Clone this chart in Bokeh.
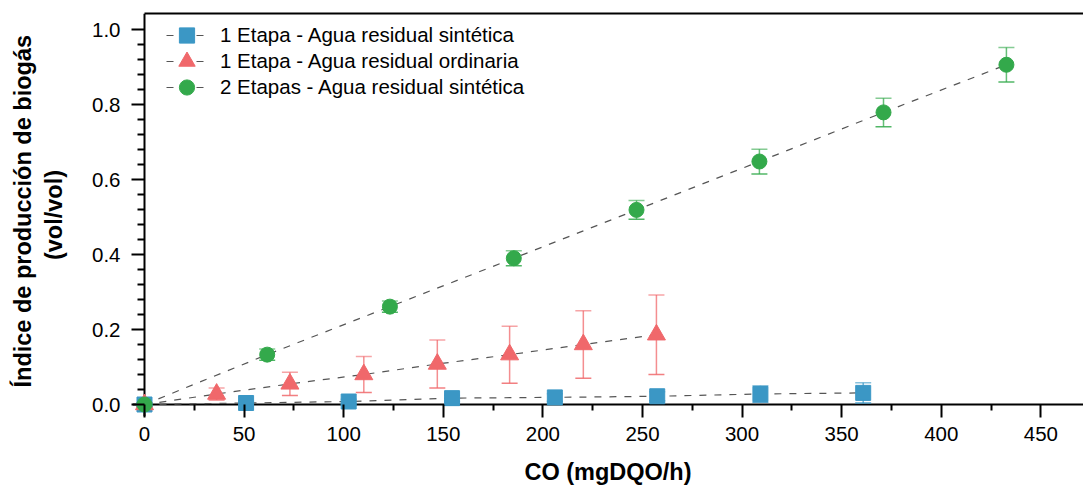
from bokeh.plotting import figure
from bokeh.models import (ColumnDataSource, Whisker, TeeHead, FixedTicker, LinearAxis,
                          Legend, LegendItem, NumeralTickFormatter, Range1d, Span, Title)
from bokeh.embed import file_html
from bokeh.resources import INLINE

# ---- data ----
series_names = ["1 Etapa - Agua residual sintética",
                "1 Etapa - Agua residual ordinaria",
                "2 Etapas - Agua residual sintética"]

x_sint1 = [0, 51, 102.5, 154.4, 206, 257.4, 309.2, 360.8]
y_sint1 = [0.0, 0.004, 0.008, 0.017, 0.019, 0.022, 0.028, 0.031]
e_sint1 = [0.004, 0.005, 0.006, 0.008, 0.010, 0.012, 0.022, 0.027]

x_ord1 = [0, 36.2, 73.0, 110.1, 147.0, 183.3, 220.3, 257.0]
y_ord1 = [0.0, 0.028, 0.055, 0.080, 0.108, 0.133, 0.160, 0.186]
e_ord1 = [0.005, 0.016, 0.031, 0.048, 0.064, 0.076, 0.090, 0.106]

x_sint2 = [0, 61.6, 123.2, 185.4, 247.0, 308.7, 371.0, 432.7]
y_sint2 = [0.0, 0.133, 0.261, 0.390, 0.519, 0.648, 0.779, 0.906]
e_sint2 = [0.004, 0.015, 0.015, 0.020, 0.025, 0.033, 0.038, 0.046]

x_ticks = [0, 50, 100, 150, 200, 250, 300, 350, 400, 450]
x_minor = [25, 75, 125, 175, 225, 275, 325, 375, 425]
y_ticks = [0.0, 0.2, 0.4, 0.6, 0.8, 1.0]
y_minor = [0.04, 0.08, 0.12, 0.16, 0.24, 0.28, 0.32, 0.36, 0.44, 0.48, 0.52, 0.56,
           0.64, 0.68, 0.72, 0.76, 0.84, 0.88, 0.92, 0.96]

x_title = "CO (mgDQO/h)"
y_title_1 = "Índice de producción de biogás"
y_title_2 = "(vol/vol)"

colors = ["#3b97c5", "#f0686b", "#33a94b"]
markers = ["square", "triangle", "circle"]
sizes = [15, 18, 15]

FONT = "Liberation Sans"
X_START, X_END = -6.024, 471.4
Y_START, Y_END = -0.032, 1.0427

p = figure(width=1083, height=490, x_range=Range1d(X_START, X_END), y_range=Range1d(Y_START, Y_END),
           output_backend="svg", toolbar_location=None,
           min_border_left=132, min_border_right=0, min_border_top=13, min_border_bottom=74)
p.outline_line_color = None
p.xgrid.visible = False
p.ygrid.visible = False

for ax in (p.xaxis[0], p.yaxis[0]):
    ax.axis_line_color = None
    ax.major_tick_line_width = 2
    ax.minor_tick_line_width = 2
    ax.major_tick_line_color = "black"
    ax.minor_tick_line_color = "black"
    ax.major_tick_in = 12
    ax.major_tick_out = 1
    ax.minor_tick_in = 12
    ax.major_label_text_font = FONT
    ax.major_label_text_font_size = "20.5px"
    ax.major_label_text_color = "black"
    ax.axis_label_text_font = FONT
    ax.axis_label_text_font_size = "23.5px"
    ax.axis_label_text_font_style = "bold"
    ax.axis_label_text_color = "black"

xa, ya = p.xaxis[0], p.yaxis[0]
xa.ticker = FixedTicker(ticks=x_ticks, minor_ticks=x_minor)
xa.minor_tick_out = -6
xa.major_label_standoff = 9
xa.axis_label = x_title
xa.axis_label_standoff = 15

ya.ticker = FixedTicker(ticks=y_ticks, minor_ticks=y_minor)
ya.minor_tick_out = -5
ya.formatter = NumeralTickFormatter(format="0.0")
ya.major_label_standoff = 11
ya.axis_label = y_title_2
ya.axis_label_standoff = 22

p.add_layout(Title(text=y_title_1, align="left", offset=29, vertical_align="bottom",
                   standoff=6, text_font=FONT, text_font_size="23.5px",
                   text_font_style="bold", text_color="black"), "left")

top = LinearAxis(ticker=FixedTicker(ticks=[], minor_ticks=[]), bounds=(0, X_END),
                 axis_line_width=2, axis_line_color="black",
                 major_tick_line_color=None, minor_tick_line_color=None,
                 major_label_text_color=None)
p.add_layout(top, "above")

# axis lines through the origin
p.add_layout(Span(location=0, dimension="height", line_color="black", line_width=2, level="underlay"))
p.add_layout(Span(location=0, dimension="width", line_color="black", line_width=2, level="underlay"))

data = [(x_sint1, y_sint1, e_sint1), (x_ord1, y_ord1, e_ord1), (x_sint2, y_sint2, e_sint2)]
legend_y = [362, 334, 310]
legend_gh = [38, 42, 38]
for i, (xs, ys, es) in enumerate(data):
    src = ColumnDataSource(dict(x=xs, y=ys,
                                lo=[a - b for a, b in zip(ys, es)],
                                hi=[a + b for a, b in zip(ys, es)]))
    ln = p.line("x", "y", source=src, line_color="#555555", line_width=1.2, line_dash="7 8")
    w = Whisker(base="x", upper="hi", lower="lo", source=src, dimension="height",
                line_color=colors[i], line_alpha=0.75, line_width=1.5, level="underlay",
                upper_head=TeeHead(size=16, line_color=colors[i], line_alpha=0.6, line_width=1.5),
                lower_head=TeeHead(size=16, line_color=colors[i], line_alpha=0.85, line_width=1.5))
    p.add_layout(w)
    sc = p.scatter("x", "y", source=src, marker=markers[i], size=sizes[i],
                   fill_color=colors[i], line_color=colors[i], line_width=1)
    lg = Legend(items=[LegendItem(label=series_names[i], renderers=[ln, sc])],
                location=(34, legend_y[i]), padding=0, margin=0, spacing=0,
                glyph_width=41, glyph_height=legend_gh[i], label_standoff=13, label_height=20,
                label_text_font=FONT, label_text_font_size="20.5px", label_text_color="black",
                background_fill_alpha=0, border_line_color=None)
    p.add_layout(lg)

open("out.html", "w").write(file_html(p, INLINE))
